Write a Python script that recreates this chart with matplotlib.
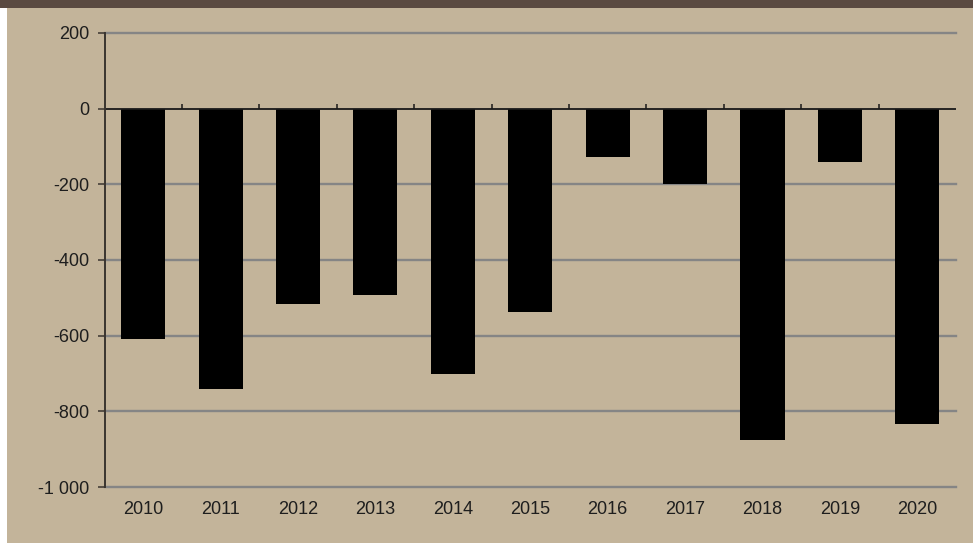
import matplotlib
matplotlib.use("Agg")
import matplotlib.pyplot as plt
from matplotlib.patches import Rectangle
from matplotlib.ticker import FuncFormatter

plt.rcParams['font.family'] = ['Liberation Sans', 'DejaVu Sans']

years = ['2010', '2011', '2012', '2013', '2014', '2015', '2016', '2017', '2018', '2019', '2020']
values = [-610, -741, -517, -493, -702, -538, -127, -200, -876, -142, -834]
y_ticks = [200, 0, -200, -400, -600, -800, -1000]

W, H = 973, 543
bg = '#c3b49a'
fig = plt.figure(figsize=(W / 100, H / 100), dpi=100, facecolor=bg)

# top dark band and left white strip
fig.patches.append(Rectangle((0, (H - 8) / H), 1, 8 / H, transform=fig.transFigure,
                             facecolor='#5a4a41', edgecolor='none', zorder=0))
fig.patches.append(Rectangle((0, 0), 7 / W, (H - 8) / H, transform=fig.transFigure,
                             facecolor='#ffffff', edgecolor='none', zorder=0))

left, right = 104.5 / W, 956 / W
bottom, top = (H - 487) / H, (H - 33) / H
ax = fig.add_axes([left, bottom, right - left, top - bottom])
ax.set_facecolor(bg)

x = list(range(len(years)))
ax.bar(x, values, width=0.57, color='black', zorder=3)

ax.set_xlim(-0.5, len(years) - 0.5)
ax.set_ylim(-1000, 200)

# gridlines
for t in y_ticks:
    if t == 0:
        continue
    ax.axhline(t, color='#858585', lw=1.7, zorder=1, clip_on=False)
ax.axhline(0, color='#1a1a1a', lw=1.3, zorder=4)
bounds = [i + 0.5 for i in range(len(years) - 1)]
ax.vlines(bounds, 0, 13, color='#1a1a1a', lw=1.1, zorder=4)

for s in ['top', 'right', 'bottom']:
    ax.spines[s].set_visible(False)
ax.spines['left'].set_color('#3a3530')
ax.spines['left'].set_linewidth(1.4)
ax.spines['left'].set_zorder(5)

ax.set_yticks(y_ticks)
ax.yaxis.set_major_formatter(FuncFormatter(lambda v, p: f"{int(v):,}".replace(',', ' ')))
ax.tick_params(axis='y', length=5, width=1.1, color='#3a3530', pad=6,
               labelsize=13, labelcolor='#1e1e1e')
ax.set_xticks(x)
ax.set_xticklabels(years)
ax.tick_params(axis='x', length=0, pad=10, labelsize=13, labelcolor='#1e1e1e')

fig.savefig('out.png', dpi=100, facecolor=bg)
